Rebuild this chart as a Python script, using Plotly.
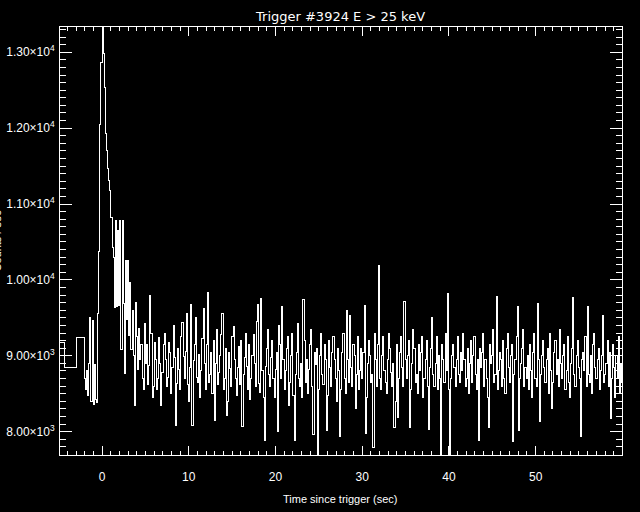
import plotly.graph_objects as go

# ---- data ----
title_text = "Trigger #3924 E > 25 keV"
x_title = "Time since trigger (sec)"
y_title = "Counts / sec"

# coarse pre-trigger bins (start times, s) and rates
pre_edges = [-5.12, -4.33, -2.98]
pre_counts = [9170, 8850, 9245]

# fine bins after -2.048 s
fine_t0 = -2.048
bin_width = 0.128
fine_counts = [
    8700, 8550, 8800, 8480, 8900, 9510, 8400, 9470, 8360, 8880,
    8420, 8380, 9560, 10380, 12050, 12860, 13333, 12990, 12530, 11930,
    11700, 11470, 11310, 11180, 10820, 10430, 10300, 9640, 10780, 9650,
    10650, 9660, 10780, 9080, 10780, 9690, 8770, 10260, 9480, 10260,
    9270, 9960, 9080, 9600, 9000, 8350, 9700, 9250, 8820, 9360,
    8950, 9150, 8700, 8550, 9420, 8900, 9150, 8620, 8870, 9800,
    9300, 8450, 8600, 9180, 8950, 8560, 8700, 9240, 8900, 8350,
    8780, 9150, 9300, 8950, 8600, 8720, 9180, 9050, 8500, 8850,
    9400, 8980, 8080, 8640, 9100, 8820, 8560, 9250, 9440, 8990,
    8700, 9060, 9560, 8620, 8400, 8850, 9680, 8080, 8940, 9150,
    9500, 8720, 8650, 9020, 8450, 8800, 9230, 9630, 8900, 8560,
    9150, 9840, 8650, 8750, 9050, 8500, 9200, 8150, 8900, 9350,
    8620, 8780, 9000, 9280, 9560, 8560, 8700, 9100, 8215, 8400,
    9050, 8830, 8600, 9250, 9380, 8950, 8700, 8480, 8850, 9120,
    8620, 9200, 8070, 8750, 8980, 9300, 8860, 8550, 9150, 8420,
    8700, 9000, 9280, 8900, 8600, 9450, 9670, 8640, 8520, 9757,
    8800, 8450, 7890, 8860, 9100, 9350, 8750, 8600, 8980, 9200,
    8700, 8450, 8820, 9050, 8000, 9400, 9150, 8700, 9650, 8950,
    8550, 8800, 9100, 9250, 8350, 8650, 9000, 9300, 8480, 7880,
    8760, 9050, 9420, 8700, 8600, 8900, 8450, 9745, 9200, 8650,
    8950, 8500, 8820, 9150, 9350, 8600, 7960, 9050, 8880, 9100,
    7700, 8550, 9000, 9300, 8750, 8620, 9150, 8950, 8020, 8480,
    9200, 8850, 8600, 9050, 9250, 8950, 8700, 8400, 9100, 8800,
    7940, 8550, 9050, 9300, 8700, 8500, 9600, 8950, 8650, 9535,
    8850, 8600, 9150, 9000, 8300, 8750, 9250, 8550, 8800, 9100,
    8700, 9050, 9665, 7980, 8450, 8900, 9200, 9000, 8650, 8750,
    7790, 9300, 8950, 8600, 9150, 10190, 8700, 8550, 9000, 9250,
    8800, 8650, 8500, 8950, 9300, 9100, 8780, 8600, 8900, 8050,
    8400, 9150, 8190, 8700, 9050, 9250, 8850, 8600, 9710, 8950,
    8700, 9000, 9200, 8050, 8550, 8900, 9350, 9100, 8650, 8750,
    8500, 9150, 8800, 9050, 9250, 8450, 8700, 8950, 9200, 8600,
    8030, 8850, 9100, 9500, 8750, 8600, 8900, 9250, 8550, 9000,
    8700, 7690, 9150, 8950, 8650, 9300, 8800, 9820, 8550, 7690,
    8700, 9000, 9150, 8850, 8600, 8950, 9250, 8750, 8650, 9050,
    8800, 9300, 8950, 8600, 8700, 9100, 8500, 8900, 9200, 8650,
    9000, 9250, 8750, 8550, 8950, 7890, 9100, 8850, 9050, 9300,
    8600, 8950, 8700, 8450, 8060, 9150, 8900, 9000, 9350, 8650,
    8750, 9780, 8550, 8800, 9050, 8950, 8600, 9200, 8700, 8500,
    9100, 9300, 8850, 8650, 9000, 9150, 7870, 8750, 8950, 9250,
    9650, 8020, 8700, 8900, 9100, 9350, 8600, 8850, 8700, 9000,
    8550, 9150, 8800, 8450, 9050, 9300, 8700, 8600, 9690, 8950,
    8130, 8750, 9000, 9200, 8850, 8650, 8950, 9100, 8500, 9300,
    8800, 8300, 8650, 9050, 9200, 8750, 8950, 8600, 9350, 8900,
    8700, 9000, 9150, 8550, 8800, 9250, 8650, 8450, 8900, 9100,
    9770, 8750, 8600, 9000, 9200, 8850, 8700, 7940, 8950, 9050,
    8800, 9250, 8600, 9655, 8750, 8650, 9000, 8500, 9150, 9300,
    8850, 8700, 8950, 9100, 8550, 8800, 9000, 9535, 8650, 8750,
    8900, 9200, 8600, 9050, 8180, 8700, 9150, 8850, 8450, 9000,
    8700, 9250, 8500, 8900, 8650,
]

y_tickvals = [8000, 9000, 10000, 11000, 12000, 13000]
y_ticktext = ["8.00×10<sup>3</sup>", "9.00×10<sup>3</sup>", "1.00×10<sup>4</sup>",
              "1.10×10<sup>4</sup>", "1.20×10<sup>4</sup>", "1.30×10<sup>4</sup>"]
x_range = [-4.85, 59.96]
y_range = [7693, 13333]

# ---- build step series ----
n = len(fine_counts)
fine_edges = [fine_t0 + k * bin_width for k in range(n + 1)]
xs = pre_edges + fine_edges
ys = pre_counts + fine_counts + [fine_counts[-1]]

W, H = 640, 512
ml, mr, mt, mb = 60, 18, 27, 57
ph = H - mt - mb
pw = W - ml - mr

fig = go.Figure()
fig.add_trace(go.Scatter(x=xs, y=ys, mode="lines",
                         line=dict(color="white", width=1, shape="hv"),
                         hoverinfo="skip", showlegend=False))

font_tick = dict(family="Liberation Sans", size=12, color="white")

fig.update_layout(
    width=W, height=H,
    margin=dict(l=ml, r=mr, t=mt, b=mb, pad=0, autoexpand=False),
    paper_bgcolor="black", plot_bgcolor="black",
    showlegend=False,
    xaxis=dict(range=x_range, showgrid=False, zeroline=False, automargin=False,
               showline=True, linecolor="white", linewidth=1, mirror="allticks",
               ticks="inside", ticklen=9, tickwidth=1, tickcolor="white",
               tick0=0, dtick=10, tickfont=font_tick, ticklabelstandoff=11,
               minor=dict(ticks="inside", ticklen=4, tickwidth=1, tickcolor="white",
                          dtick=1, tick0=0, showgrid=False)),
    yaxis=dict(range=y_range, showgrid=False, zeroline=False, automargin=False,
               showline=True, linecolor="white", linewidth=1, mirror="allticks",
               ticks="inside", ticklen=12, tickwidth=1, tickcolor="white",
               tickvals=y_tickvals, ticktext=y_ticktext, tickfont=font_tick,
               ticklabelstandoff=2,
               minor=dict(ticks="inside", ticklen=6, tickwidth=1, tickcolor="white",
                          dtick=100, tick0=0, showgrid=False)),
    annotations=[
        dict(text=title_text, xref="paper", yref="paper",
             x=(340 - ml) / pw, y=1 + (mt - 16) / ph, xanchor="center", yanchor="middle",
             showarrow=False, font=dict(family="DejaVu Sans", size=13, color="white")),
        dict(text=x_title, xref="paper", yref="paper",
             x=(340 - ml) / pw, y=-(499 - (H - mb)) / ph, xanchor="center", yanchor="middle",
             showarrow=False, font=dict(family="Liberation Sans", size=11, color="white")),
        dict(text=y_title, xref="paper", yref="paper", textangle=-90,
             x=(-3.5 - ml) / pw, y=(H - mb - 241) / ph, xanchor="center", yanchor="middle",
             showarrow=False, font=dict(family="Liberation Sans", size=11, color="white")),
    ],
)

post = """
document.body.style.margin = '0';
document.body.style.background = 'black';
document.querySelectorAll('.scatterlayer path, .xtick, .ytick, path.xtick, path.ytick, .xlines-above, .ylines-above').forEach(function(p){ p.style.shapeRendering = 'crispEdges'; });
"""
fig.write_html("out.html", post_script=post, config={"displayModeBar": False})
